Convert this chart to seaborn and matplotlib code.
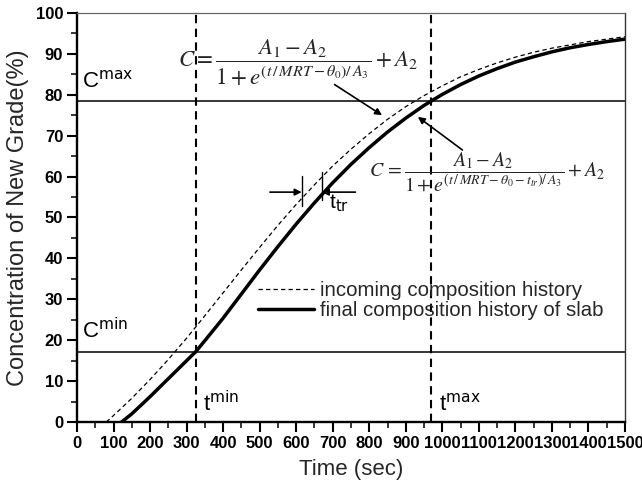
import matplotlib
matplotlib.use("Agg")
import matplotlib.pyplot as plt
from matplotlib.ticker import MultipleLocator
import pandas as pd
import seaborn as sns

# incoming composition history (dashed)
time_incoming = [80, 100, 150, 200, 250, 300, 350, 400, 450, 500, 550, 600, 650, 700,
                 750, 800, 850, 900, 950, 1000, 1050, 1100, 1150, 1200, 1250, 1300,
                 1350, 1400, 1450, 1500]
conc_incoming = [0.0, 1.6, 5.8, 10.4, 15.3, 20.5, 26.0, 31.6, 37.2, 42.7, 48.1, 53.2,
                 58.0, 62.6, 66.7, 70.5, 74.0, 77.1, 79.8, 82.2, 84.4, 86.2, 87.8,
                 89.2, 90.4, 91.4, 92.2, 93.0, 93.6, 94.2]

# final composition history of slab (solid)
time_final = [122, 150, 200, 250, 300, 325, 350, 400, 450, 500, 550, 600, 650, 700, 750,
              800, 850, 900, 950, 1000, 1050, 1100, 1150, 1200, 1250, 1300, 1350,
              1400, 1450, 1500]
conc_final = [0.0, 2.0, 6.2, 10.6, 15.0, 17.2, 19.9, 25.4, 31.3, 37.2, 42.9, 48.4,
              53.6, 58.5, 63.0, 67.1, 70.9, 74.3, 77.4, 80.1, 82.5, 84.6, 86.4, 88.0,
              89.3, 90.5, 91.5, 92.3, 93.0, 93.6]

t_min, t_max = 325, 970
c_min, c_max = 17.2, 78.5
t_tr_left, t_tr_right = 615, 670

x_ticks = list(range(0, 1501, 100))
y_ticks = list(range(0, 101, 10))

legend_incoming = "incoming composition history"
legend_final = "final composition history of slab"

sns.set_style("ticks")
plt.rcParams["font.family"] = ["Liberation Sans", "DejaVu Sans"]
plt.rcParams["mathtext.fontset"] = "stix"

fig = plt.figure(figsize=(6.42, 4.86), dpi=100)
ax = fig.add_axes([0.12, 0.1317, 0.8535, 0.8416])

# reference levels
ax.axhline(c_max, color="black", lw=1.1, zorder=1)
ax.axhline(c_min, color="black", lw=1.1, zorder=1)
ax.axvline(t_min, color="black", lw=1.5, ls=(0, (4, 2.6)), zorder=1)
ax.axvline(t_max, color="black", lw=1.5, ls=(0, (4, 2.6)), zorder=1)

df_in = pd.DataFrame({"time": time_incoming, "conc": conc_incoming})
df_fin = pd.DataFrame({"time": time_final, "conc": conc_final})
sns.lineplot(data=df_in, x="time", y="conc", ax=ax, color="black", lw=0.9,
             linestyle=(0, (3.5, 2.5)), label=legend_incoming, zorder=3)
sns.lineplot(data=df_fin, x="time", y="conc", ax=ax, color="black", lw=2.5,
             label=legend_final, zorder=3)

ax.set_xlim(0, 1500)
ax.set_ylim(0, 100)
ax.set_xticks(x_ticks)
ax.set_yticks(y_ticks)
ax.xaxis.set_minor_locator(MultipleLocator(50))
ax.yaxis.set_minor_locator(MultipleLocator(5))
ax.tick_params(which="major", direction="out", length=7, width=1.5, labelsize=12,
               pad=3, colors="black")
ax.tick_params(which="minor", direction="out", length=4, width=1.3)
for lab in ax.get_xticklabels() + ax.get_yticklabels():
    lab.set_fontweight("bold")

for side in ("left", "bottom"):
    ax.spines[side].set_linewidth(1.7)
    ax.spines[side].set_color("black")
ax.spines["top"].set_linewidth(0.9)
ax.spines["top"].set_color("#666666")
ax.spines["right"].set_linewidth(1.0)
ax.spines["right"].set_color("#333333")

ax.set_xlabel("Time (sec)", fontsize=16, labelpad=6)
ax.set_ylabel("Concentration of New Grade(%)", fontsize=17, labelpad=5)

# level labels
sans = dict(math_fontfamily="dejavusans", color="black")
ax.text(13, c_max + 2.0, r"C$^{\mathsf{max}}$", fontsize=16, va="bottom", ha="left", **sans)
ax.text(13, c_min + 2.0, r"C$^{\mathsf{min}}$", fontsize=16, va="bottom", ha="left", **sans)
ax.text(t_min + 20, 1.5, r"t$^{\mathsf{min}}$", fontsize=16, va="bottom", ha="left", **sans)
ax.text(t_max + 20, 1.5, r"t$^{\mathsf{max}}$", fontsize=16, va="bottom", ha="left", **sans)

# model equations
eq_in = r"$C=\dfrac{A_1-A_2}{1+e^{(t\,/\,MRT-\theta_0)/\,A_3}}+A_2$"
eq_fin = r"$C\,=\dfrac{A_1-A_2}{1+e^{(t\,/\,MRT-\theta_0-t_{tr})/\,A_3}}+A_2$"
ax.text(604, 87.8, eq_in, fontsize=16.5, ha="center", va="center")
ax.text(1122, 61, eq_fin, fontsize=14.3, ha="center", va="center")

arrow = dict(arrowstyle="-|>", color="black", lw=1.2, mutation_scale=10, shrinkA=0, shrinkB=0)
ax.annotate("", xy=(835, 75), xytext=(705, 82.5), arrowprops=arrow)
ax.annotate("", xy=(933, 74.6), xytext=(1055, 66.5), arrowprops=arrow)

# transport delay marker
ax.plot([t_tr_left, t_tr_left], [52.8, 60.1], color="black", lw=1.0)
ax.plot([t_tr_right, t_tr_right], [54.3, 61.1], color="black", lw=1.0)
ax.annotate("", xy=(t_tr_left, 56.2), xytext=(528, 56.2), arrowprops=arrow)
ax.annotate("", xy=(t_tr_right, 56.2), xytext=(762, 56.2), arrowprops=arrow)
ax.text(690, 53.5, r"t$_{\mathsf{tr}}$", fontsize=15, ha="left", va="center", **sans)

ax.legend(loc="center left", bbox_to_anchor=(0.330, 0.296), frameon=False, fontsize=14.7,
          handlelength=2.75, handletextpad=0.3, labelspacing=0.05, borderpad=0,
          borderaxespad=0)

fig.savefig("out.png", dpi=100)
